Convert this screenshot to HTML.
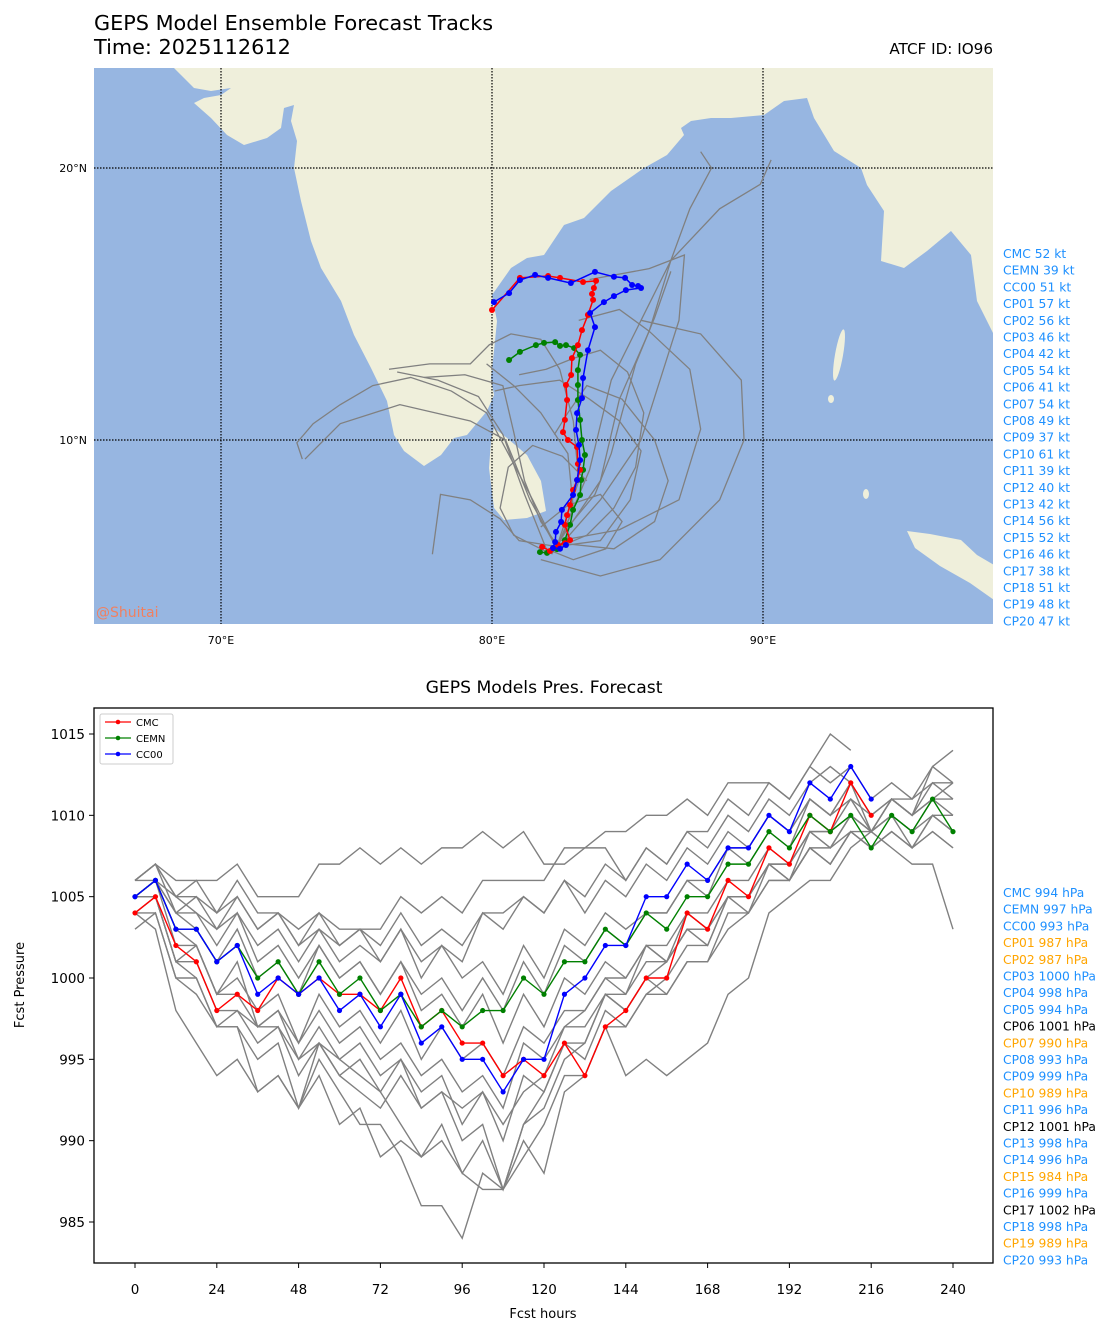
<!DOCTYPE html>
<html><head><meta charset="utf-8"><style>
body{margin:0;background:#fff;font-family:"Liberation Sans","DejaVu Sans",sans-serif}
svg text{font-family:"DejaVu Sans","Liberation Sans",sans-serif}
</style></head><body>
<svg id="s" width="1111" height="1335" viewBox="0 0 1111 1335" xmlns="http://www.w3.org/2000/svg">
<text x="94" y="30" font-size="20.8">GEPS Model Ensemble Forecast Tracks</text>
<text x="94" y="54" font-size="20.8">Time: 2025112612</text>
<text x="993" y="54" font-size="15.2" text-anchor="end">ATCF ID: IO96</text>
<defs><clipPath id="mc"><rect x="94" y="68" width="899" height="556"/></clipPath><clipPath id="pc"><rect x="94" y="708" width="899" height="555"/></clipPath></defs>
<g clip-path="url(#mc)">
<rect x="94" y="68" width="899" height="556" fill="#97b6e1"/>
<polygon fill="#efefdb" points="174,68 181,75 194,88 211,91 231,88 221,95 204,98 194,103 211,118 227,135 244,145 267,138 281,128 284,108 294,105 291,121 297,141 294,168 301,201 311,241 321,268 341,301 354,335 371,368 387,401 394,435 404,451 424,466 441,455 454,438 467,435 487,411 494,395 491,378 494,351 497,321 492,295 511,268 527,258 544,255 564,225 584,218 611,191 644,168 667,155 684,135 681,128 691,121 711,118 731,118 764,115 784,101 807,98 814,118 834,151 861,168 867,185 884,211 881,261 904,268 927,251 951,231 971,255 977,301 994,335 994,68"/>
<polygon fill="#efefdb" points="494,428 507,438 527,455 541,481 546,511 527,518 504,520 494,508 489,468 491,441"/>
<polygon fill="#efefdb" points="907,531 930,534 961,540 977,555 994,565 994,600 970,583 940,566 915,548"/>
<ellipse cx="839" cy="355" rx="4" ry="26" fill="#efefdb" transform="rotate(10 839 355)"/>
<ellipse cx="831" cy="399" rx="3" ry="4" fill="#efefdb"/>
<ellipse cx="866" cy="494" rx="3" ry="5" fill="#efefdb"/>
<g id="grid" stroke="#000" stroke-width="1.2" stroke-dasharray="1.5,1.5">
<line x1="221" y1="68" x2="221" y2="624"/><line x1="492" y1="68" x2="492" y2="624"/><line x1="763" y1="68" x2="763" y2="624"/>
<line x1="94" y1="168" x2="993" y2="168"/><line x1="94" y1="440" x2="993" y2="440"/></g>
<g id="tracks"></g>
<text x="96" y="617" font-size="14" fill="#f08060">@Shuitai</text>
</g>
<g font-size="11">
<text x="221" y="644" text-anchor="middle">70°E</text><text x="492" y="644" text-anchor="middle">80°E</text><text x="763" y="644" text-anchor="middle">90°E</text>
<text x="87" y="172" text-anchor="end">20°N</text><text x="87" y="444" text-anchor="end">10°N</text></g>
<g id="ktlist" font-size="12.3"></g>

<text x="544" y="693" font-size="17.2" text-anchor="middle">GEPS Models Pres. Forecast</text>
<g id="plot">
<g id="lines" clip-path="url(#pc)"></g>
<rect x="94" y="708" width="899" height="555" fill="none" stroke="#000" stroke-width="1.3"/>
<g id="axes" font-size="13.5"></g>
</g>
<text x="543" y="1318" font-size="13" text-anchor="middle">Fcst hours</text>
<text x="24" y="985" font-size="13" text-anchor="middle" transform="rotate(-90 24 985)">Fcst Pressure</text>
<g>
<rect x="100" y="714" width="73" height="50" fill="#fff" stroke="#ccc" rx="2"/>
<line x1="105" y1="722" x2="131" y2="722" stroke="red" stroke-width="1.3"/><circle cx="118" cy="722" r="2.3" fill="red"/><text x="136" y="726" font-size="10">CMC</text>
<line x1="105" y1="738" x2="131" y2="738" stroke="green" stroke-width="1.3"/><circle cx="118" cy="738" r="2.3" fill="green"/><text x="136" y="742" font-size="10">CEMN</text>
<line x1="105" y1="754" x2="131" y2="754" stroke="blue" stroke-width="1.3"/><circle cx="118" cy="754" r="2.3" fill="blue"/><text x="136" y="758" font-size="10">CC00</text>
</g>
<g id="hpalist" font-size="12.3"></g>
</svg>
<script>
// ---- map data (lon/lat) ----
const cmcLon=[80.0,81.03,82.07,82.51,83.36,83.84,83.76,83.69,83.73,83.54,83.32,83.17,82.95,82.92,82.73,82.77,82.69,82.62,82.80,83.14,83.17,83.25,83.14,82.99,82.88,82.77,82.69,82.88,82.69,82.44,82.14,81.85];
const cmcLat=[14.78,15.96,16.03,15.96,15.81,15.85,15.59,15.37,15.15,14.60,14.04,13.49,13.01,12.39,12.02,11.47,10.74,10.29,10.0,9.74,9.12,8.90,8.53,8.16,7.61,7.24,6.88,6.32,6.21,6.14,5.92,6.07];
const cc00Lon=[80.07,80.63,81.03,81.59,82.07,82.91,83.80,84.50,84.91,85.17,85.39,85.50,84.94,84.50,84.13,83.62,83.80,83.54,83.36,83.32,83.14,83.10,83.21,83.25,83.14,82.99,82.58,82.55,82.36,82.33,82.25,82.51,82.73];
const cc00Lat=[15.07,15.40,15.88,16.07,15.96,15.77,16.18,16.00,15.96,15.70,15.66,15.59,15.51,15.29,15.07,14.67,14.15,13.30,12.28,11.54,10.99,10.37,9.82,9.26,8.53,7.98,7.43,6.99,6.62,6.25,6.03,6.00,6.14];
const cemnLon=[80.63,81.03,81.62,81.92,82.33,82.51,82.73,83.03,83.25,83.17,83.17,83.17,83.25,83.32,83.43,83.36,83.29,83.25,82.99,82.88,82.69,82.40,82.03,81.77];
const cemnLat=[12.94,13.24,13.49,13.57,13.60,13.46,13.49,13.38,13.13,12.57,12.02,11.47,10.74,10.0,9.45,8.90,8.53,7.98,7.43,6.88,6.32,5.99,5.85,5.88];
const grayLon=[[82.3,81.5,80.6,79.8,78.5,77.0,75.6,74.4,73.4,72.8,73.0],[82.0,81.2,80.4,79.5,78.0,76.5],[82.5,84.0,84.7,85.8,86.6,87.3,88.1,87.7],[82.5,84.7,86.9,87.7,87.3,85.8,84.7,83.2],[81.8,84.0,86.2,88.4,89.3,89.2,87.7,85.5],[82.5,83.6,84.4,85.5,86.6,88.4,89.9,90.3],[82.3,81.0,80.3,79.2,78.1,77.8],[82.5,84.0,85.5,86.2,86.9,87.1,85.8,83.6],[82.4,81.4,80.5,79.2,76.6,74.4,73.1],[82.5,84.0,85.1,85.5,84.7,83.6,82.5,81.0,80.1],[82.0,83.0,84.2,84.8,84.0,82.8,81.8],[82.4,83.2,83.0,82.5,81.8,80.7,79.9,79.2,77.7,76.2],
[82.3,83.5,84.5,85.3,85.6,85.0,84.0,83.0,82.0,81.0],[82.5,81.8,81.2,80.8,80.4,79.0,77.5],[82.2,82.8,83.8,84.4,84.8,85.3,86.0,86.6],[82.6,84.5,86.0,86.5,86.0,84.8,83.5,82.8,82.3],[82.0,80.8,80.3,80.6,81.5,82.6,83.5],[82.4,83.0,82.8,81.8,80.8,79.8]];
const grayLat=[[6.2,7.8,9.5,11.0,11.8,12.3,12.0,11.3,10.6,9.9,9.3],[6.0,8.0,10.2,11.6,12.2,12.5],[6.3,8.5,11.5,14.0,16.6,18.5,20.0,20.6],[6.3,6.7,7.8,10.4,12.6,14.0,14.8,14.4],[5.6,5.0,5.6,7.8,10.0,12.2,13.9,14.4],[6.3,8.9,12.2,14.4,16.6,18.5,19.4,20.3],[6.1,6.3,7.1,7.8,8.0,5.8],[6.1,7.8,10.0,12.2,14.4,16.8,16.3,15.9],[6.0,7.8,10.0,10.7,11.3,10.6,9.3],[6.1,6.3,7.8,9.6,10.7,11.5,12.2,12.0,11.8],[6.0,5.6,6.0,7.0,8.0,7.6,6.8],[6.1,8.5,10.7,12.6,13.7,13.9,13.5,12.8,12.8,12.6],
[6.0,6.5,7.5,9.0,11.0,12.5,13.3,13.0,12.6,12.4],[6.0,7.0,8.5,10.3,12.0,12.4,12.3],[5.8,6.8,8.0,9.5,11.0,12.8,14.5,16.2],[6.2,6.0,7.0,8.5,10.0,11.5,12.0,11.0,10.2],[5.9,6.5,7.5,9.0,9.8,9.4,8.5],[6.0,7.5,9.5,11.0,12.0,12.8]];
const ktNames=["CMC","CEMN","CC00","CP01","CP02","CP03","CP04","CP05","CP06","CP07","CP08","CP09","CP10","CP11","CP12","CP13","CP14","CP15","CP16","CP17","CP18","CP19","CP20"];
const ktVals=[52,39,51,57,56,46,42,54,41,54,49,37,61,39,40,42,56,52,46,38,51,48,47];
const hpaVals=[994,997,993,987,987,1000,998,994,1001,990,993,999,989,996,1001,998,996,984,999,1002,998,989,993];
// ---- pressure data (6-hourly from 0h) ----
const cmcP=[1004,1005,1002,1001,998,999,998,1000,999,1000,999,999,998,1000,997,998,996,996,994,995,994,996,994,997,998,1000,1000,1004,1003,1006,1005,1008,1007,1010,1009,1012,1010];
const cemnP=[1005,1006,1003,1003,1001,1002,1000,1001,999,1001,999,1000,998,999,997,998,997,998,998,1000,999,1001,1001,1003,1002,1004,1003,1005,1005,1007,1007,1009,1008,1010,1009,1010,1008,1010,1009,1011,1009];
const cc00P=[1005,1006,1003,1003,1001,1002,999,1000,999,1000,998,999,997,999,996,997,995,995,993,995,995,999,1000,1002,1002,1005,1005,1007,1006,1008,1008,1010,1009,1012,1011,1013,1011];
const grayP=[
[1006,1007,1006,1006,1006,1007,1005,1005,1005,1007,1007,1008,1007,1008,1007,1008,1008,1009,1008,1009,1007,1007,1008,1008,1006,1008,1007,1009,1008,1010,1009,1011,1010,1012,1013,1012],
[1004,1003,998,996,994,995,993,994,992,996,995,994,993,991,989,990,988,987,987,989,991,994,994,997,994,995,994,995,996,999,1000,1004,1005,1006,1006,1008,1009,1010,1009,1011,1012],
[1003,1004,1000,1000,997,997,995,996,992,995,993,991,991,989,986,986,984,988,987,991,993,996,996,999,998,1000,1001,1003,1003,1005,1005,1007,1007,1009,1009,1011,1010,1011,1011,1012,1012],
[1006,1007,1005,1006,1004,1006,1004,1004,1002,1004,1002,1003,1001,1003,1001,1002,1001,1004,1003,1005,1004,1006,1004,1006,1005,1007,1006,1008,1007,1009,1008,1010,1009,1011,1010,1012,1010,1011,1010,1012,1011],
[1005,1006,1004,1005,1003,1005,1003,1004,1002,1003,1001,1002,1001,1003,1000,1002,1000,1001,999,1002,1000,1003,1002,1004,1003,1004,1004,1006,1005,1008,1007,1009,1008,1011,1010,1012,1009,1011,1010,1013,1014],
[1005,1005,1001,1001,998,998,996,997,994,996,994,995,993,995,993,994,991,993,990,994,993,996,995,998,997,999,999,1001,1001,1003,1004,1006,1006,1008,1008,1009,1009,1010,1008,1009,1008],
[1006,1007,1004,1003,1001,1003,1000,1001,999,1002,1000,1001,999,1001,998,999,997,999,996,999,997,1000,999,1001,1000,1002,1001,1003,1003,1005,1005,1007,1006,1008,1007,1009,1008,1009,1008,1009,1008],
[1005,1006,1002,1002,999,1000,998,999,996,998,996,997,995,996,994,995,993,994,992,996,995,997,997,999,999,1002,1001,1004,1004,1006,1006,1008,1007,1009,1009,1010,1009,1011,1010,1011,1010],
[1004,1005,1001,1000,997,998,997,997,995,996,994,993,992,994,992,993,990,991,987,991,992,995,996,999,998,1000,999,1001,1001,1004,1004,1006,1006,1009,1008,1010,1009,1010,1009,1010,1009],
[1006,1006,1005,1004,1003,1004,1002,1003,1001,1003,1002,1003,1002,1004,1002,1003,1002,1004,1004,1005,1004,1006,1005,1007,1006,1008,1007,1009,1009,1011,1010,1012,1011,1013,1012,1013,1011,1012,1011,1013,1012],
[1004,1004,1000,999,997,997,993,994,992,994,991,992,989,990,989,991,988,990,987,990,988,993,994,997,997,999,1000,1002,1002,1005,1005,1007,1006,1008,1007,1009,1008,1009,1008,1010,1010],
[1005,1006,1003,1002,999,1001,997,998,996,999,997,998,996,998,995,997,995,996,994,997,996,998,998,1000,1000,1002,1002,1004,1003,1005,1005,1007,1007,1009,1008,1010,1009,1011,1010,1011,1011],
[1006,1007,1005,1005,1004,1005,1003,1004,1003,1004,1003,1003,1003,1005,1004,1005,1004,1006,1006,1006,1006,1008,1008,1009,1009,1010,1010,1011,1010,1012,1012,1012,1011,1013,1015,1014],
[1005,1006,1004,1004,1002,1004,1001,1002,1000,1002,1000,1001,999,1001,999,1000,998,1000,998,1001,999,1002,1001,1003,1002,1004,1004,1006,1006,1008,1008,1010,1009,1011,1010,1011,1009,1008,1007,1007,1003],
[1005,1005,1001,1002,999,999,997,998,995,997,995,996,994,995,992,993,992,993,991,993,994,997,998,1000,999,1001,1001,1003,1002,1005,1004,1007,1006,1008,1007,1009,1008,1009,1008,1010,1009]
];
const xTicks=[0,24,48,72,96,120,144,168,192,216,240];
const yTicks=[985,990,995,1000,1005,1010,1015];

const NS='http://www.w3.org/2000/svg';
function mk(tag,attrs,parent){const e=document.createElementNS(NS,tag);for(const k in attrs)e.setAttribute(k,attrs[k]);parent.appendChild(e);return e;}
const mx=lon=>492+(lon-80)*27.1, my=lat=>440-(lat-10)*27.2;
const px=h=>135+h*818/240, py=p=>734+(1015-p)*488/30;

const tg=document.getElementById('tracks');
grayLon.forEach((lo,i)=>{const pl=mk('polyline',{points:lo.map((v,j)=>mx(v)+','+my(grayLat[i][j])).join(' '),fill:'none',stroke:'#808080','stroke-width':1.3},tg);

});
function track(lo,la,c,name){const g=mk('g',{},tg);


mk('polyline',{points:lo.map((v,j)=>mx(v)+','+my(la[j])).join(' '),fill:'none',stroke:c,'stroke-width':1.5},g);
lo.forEach((v,j)=>mk('circle',{cx:mx(v),cy:my(la[j]),r:3,fill:c},g));}
track(cemnLon,cemnLat,'green','cemn-track');track(cmcLon,cmcLat,'red','cmc-track');track(cc00Lon,cc00Lat,'blue','cc00-track');

const kl=document.getElementById('ktlist'), hl=document.getElementById('hpalist');
ktNames.forEach((n,i)=>{const t=mk('text',{x:1003,y:258+i*16.7,fill:'#1e90ff'},kl);t.textContent=n+' '+ktVals[i]+' kt';


const v=hpaVals[i];const c=v<=990?'#ffa500':(v>=1001?'#000':'#1e90ff');
const u=mk('text',{x:1003,y:897+i*16.7,fill:c},hl);u.textContent=n+' '+v+' hPa';

});

const lg=document.getElementById('lines');
grayP.forEach(s=>{const pl=mk('polyline',{points:s.map((v,j)=>px(j*6)+','+py(v)).join(' '),fill:'none',stroke:'#808080','stroke-width':1.4},lg);

});
function series(s,c,name){const g=mk('g',{},lg);


mk('polyline',{points:s.map((v,j)=>px(j*6)+','+py(v)).join(' '),fill:'none',stroke:c,'stroke-width':1.4},g);
s.forEach((v,j)=>mk('circle',{cx:px(j*6),cy:py(v),r:2.6,fill:c},g));}
series(cmcP,'red','cmc-pressure');series(cemnP,'green','cemn-pressure');series(cc00P,'blue','cc00-pressure');

const ax=document.getElementById('axes');
xTicks.forEach(t=>{mk('line',{x1:px(t),y1:1263,x2:px(t),y2:1268,stroke:'#000'},ax);
const e=mk('text',{x:px(t),y:1294,'text-anchor':'middle'},ax);e.textContent=t;

});
yTicks.forEach(t=>{mk('line',{x1:89,y1:py(t),x2:94,y2:py(t),stroke:'#000'},ax);
const e=mk('text',{x:85,y:py(t)+5,'text-anchor':'end'},ax);e.textContent=t;

});
</script>
</body></html>
